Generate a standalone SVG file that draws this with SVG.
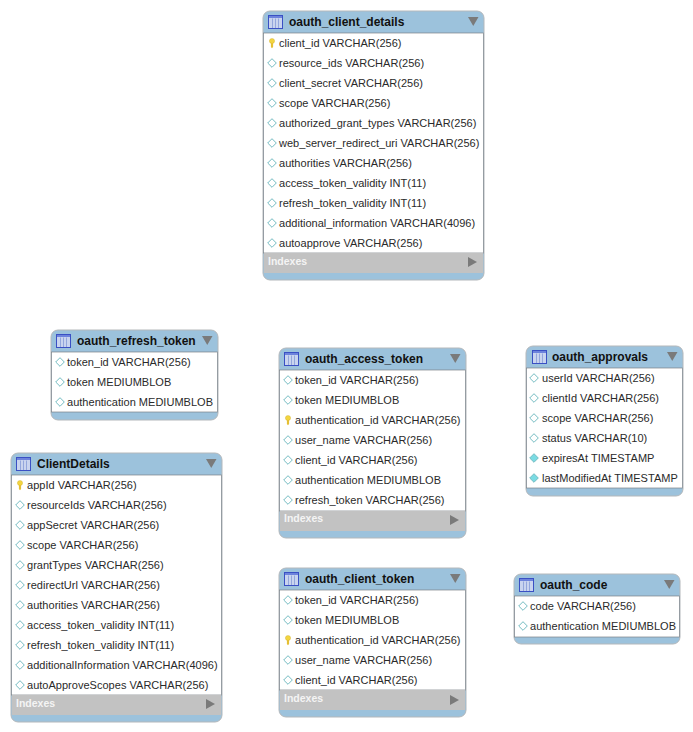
<svg xmlns="http://www.w3.org/2000/svg" width="693" height="732" viewBox="0 0 693 732">
<style>
.box{fill:#9cc2dc;stroke:#b4b8bb;stroke-width:1}
.body{fill:#fff;stroke:#7b8186;stroke-width:.7}
.idx{fill:#c2c2c2}
.t{font:bold 12px "Liberation Sans",Arial,sans-serif;fill:#111}
.r{font:11px "Liberation Sans",Arial,sans-serif;fill:#2a2a2a;letter-spacing:.02px}
.i{font:bold 10.500px "Liberation Sans",Arial,sans-serif;fill:#f4f4f4}
</style>
<defs>
<g id="ticon"><rect x="0.500" y="0.500" width="14" height="13" fill="#c9d4ef" stroke="#3a50c4"/><rect x="1" y="1" width="13" height="2" fill="#6d83dc"/><path d="M4.500 3.500v9.500M7.500 3.500v9.500M10.500 3.500v9.500" stroke="#93a6dc" fill="none"/></g>
<path id="down" d="M0 0h10.500l-5.250 9z" fill="#7a7a7a"/>
<path id="right" d="M0 0l9 5l-9 5z" fill="#7a7a7a"/>
<path id="d" d="M0 -4.300l4.300 4.300l-4.300 4.300l-4.300 -4.300z" fill="#fff" stroke="#74bcc2" stroke-width="1"/>
<path id="dn" d="M0 -4.300l4.300 4.300l-4.300 4.300l-4.300 -4.300z" fill="#7adbe3" stroke="#74bcc2" stroke-width="1"/>
<g id="key"><ellipse cx="0" cy="-2" rx="2.600" ry="2.500" fill="#f3d53f" stroke="#cfae35" stroke-width=".4"/><path d="M-1.100 0h2.200v4l-1.100 1.200l-1.100 -1.200z" fill="#e5bf33"/></g>
</defs>

<g id="connectors"></g>

<g id="oauth_client_details">
<rect class="box" x="263" y="11" width="221" height="269" rx="7"/>
<rect class="body" x="263.500" y="33" width="220" height="220"/>
<rect class="idx" x="264" y="253" width="219" height="20"/>
<use href="#ticon" x="268" y="15"/>
<text class="t" x="289" y="26">oauth_client_details</text>
<use href="#down" x="468" y="17"/>
<use href="#key" x="272" y="43"/><text class="r" x="279" y="47">client_id VARCHAR(256)</text>
<use href="#d" x="272" y="63"/><text class="r" x="279" y="67">resource_ids VARCHAR(256)</text>
<use href="#d" x="272" y="83"/><text class="r" x="279" y="87">client_secret VARCHAR(256)</text>
<use href="#d" x="272" y="103"/><text class="r" x="279" y="107">scope VARCHAR(256)</text>
<use href="#d" x="272" y="123"/><text class="r" x="279" y="127">authorized_grant_types VARCHAR(256)</text>
<use href="#d" x="272" y="143"/><text class="r" x="279" y="147">web_server_redirect_uri VARCHAR(256)</text>
<use href="#d" x="272" y="163"/><text class="r" x="279" y="167">authorities VARCHAR(256)</text>
<use href="#d" x="272" y="183"/><text class="r" x="279" y="187">access_token_validity INT(11)</text>
<use href="#d" x="272" y="203"/><text class="r" x="279" y="207">refresh_token_validity INT(11)</text>
<use href="#d" x="272" y="223"/><text class="r" x="279" y="227">additional_information VARCHAR(4096)</text>
<use href="#d" x="272" y="243"/><text class="r" x="279" y="247">autoapprove VARCHAR(256)</text>
<text class="i" x="268" y="265">Indexes</text>
<use href="#right" x="468" y="257"/>
</g>

<g id="oauth_refresh_token">
<rect class="box" x="51" y="330" width="167" height="90" rx="7"/>
<rect class="body" x="51.500" y="352" width="166" height="60"/>
<use href="#ticon" x="56" y="334"/>
<text class="t" x="77" y="345">oauth_refresh_token</text>
<use href="#down" x="202" y="336"/>
<use href="#d" x="60" y="362"/><text class="r" x="67" y="366">token_id VARCHAR(256)</text>
<use href="#d" x="60" y="382"/><text class="r" x="67" y="386">token MEDIUMBLOB</text>
<use href="#d" x="60" y="402"/><text class="r" x="67" y="406">authentication MEDIUMBLOB</text>
</g>

<g id="oauth_access_token">
<rect class="box" x="279" y="348" width="187" height="190" rx="7"/>
<rect class="body" x="279.500" y="370" width="186" height="141"/>
<rect class="idx" x="280" y="511" width="185" height="20"/>
<use href="#ticon" x="284" y="352"/>
<text class="t" x="305" y="363">oauth_access_token</text>
<use href="#down" x="450" y="354"/>
<use href="#d" x="288" y="380"/><text class="r" x="295" y="384">token_id VARCHAR(256)</text>
<use href="#d" x="288" y="400"/><text class="r" x="295" y="404">token MEDIUMBLOB</text>
<use href="#key" x="288" y="420"/><text class="r" x="295" y="424">authentication_id VARCHAR(256)</text>
<use href="#d" x="288" y="440"/><text class="r" x="295" y="444">user_name VARCHAR(256)</text>
<use href="#d" x="288" y="460"/><text class="r" x="295" y="464">client_id VARCHAR(256)</text>
<use href="#d" x="288" y="480"/><text class="r" x="295" y="484">authentication MEDIUMBLOB</text>
<use href="#d" x="288" y="500"/><text class="r" x="295" y="504">refresh_token VARCHAR(256)</text>
<text class="i" x="284" y="522">Indexes</text>
<use href="#right" x="450" y="515"/>
</g>

<g id="oauth_approvals">
<rect class="box" x="526" y="346" width="157" height="150" rx="7"/>
<rect class="body" x="526.500" y="368" width="156" height="120"/>
<use href="#ticon" x="532" y="350"/>
<text class="t" x="552" y="361">oauth_approvals</text>
<use href="#down" x="667" y="352"/>
<use href="#d" x="534" y="378"/><text class="r" x="542" y="382">userId VARCHAR(256)</text>
<use href="#d" x="534" y="398"/><text class="r" x="542" y="402">clientId VARCHAR(256)</text>
<use href="#d" x="534" y="418"/><text class="r" x="542" y="422">scope VARCHAR(256)</text>
<use href="#d" x="534" y="438"/><text class="r" x="542" y="442">status VARCHAR(10)</text>
<use href="#dn" x="534" y="458"/><text class="r" x="542" y="462">expiresAt TIMESTAMP</text>
<use href="#dn" x="534" y="478"/><text class="r" x="542" y="482">lastModifiedAt TIMESTAMP</text>
</g>

<g id="ClientDetails">
<rect class="box" x="11" y="453" width="211" height="269" rx="7"/>
<rect class="body" x="11.500" y="475" width="210" height="220"/>
<rect class="idx" x="12" y="695" width="209" height="20"/>
<use href="#ticon" x="16" y="457"/>
<text class="t" x="37" y="468">ClientDetails</text>
<use href="#down" x="206" y="459"/>
<use href="#key" x="20" y="485"/><text class="r" x="27" y="489">appId VARCHAR(256)</text>
<use href="#d" x="20" y="505"/><text class="r" x="27" y="509">resourceIds VARCHAR(256)</text>
<use href="#d" x="20" y="525"/><text class="r" x="27" y="529">appSecret VARCHAR(256)</text>
<use href="#d" x="20" y="545"/><text class="r" x="27" y="549">scope VARCHAR(256)</text>
<use href="#d" x="20" y="565"/><text class="r" x="27" y="569">grantTypes VARCHAR(256)</text>
<use href="#d" x="20" y="585"/><text class="r" x="27" y="589">redirectUrl VARCHAR(256)</text>
<use href="#d" x="20" y="605"/><text class="r" x="27" y="609">authorities VARCHAR(256)</text>
<use href="#d" x="20" y="625"/><text class="r" x="27" y="629">access_token_validity INT(11)</text>
<use href="#d" x="20" y="645"/><text class="r" x="27" y="649">refresh_token_validity INT(11)</text>
<use href="#d" x="20" y="665"/><text class="r" x="27" y="669">additionalInformation VARCHAR(4096)</text>
<use href="#d" x="20" y="685"/><text class="r" x="27" y="689">autoApproveScopes VARCHAR(256)</text>
<text class="i" x="16" y="707">Indexes</text>
<use href="#right" x="206" y="699"/>
</g>

<g id="oauth_client_token">
<rect class="box" x="279" y="568" width="187" height="149" rx="7"/>
<rect class="body" x="279.500" y="590" width="186" height="100"/>
<rect class="idx" x="280" y="690" width="185" height="20"/>
<use href="#ticon" x="284" y="572"/>
<text class="t" x="305" y="583">oauth_client_token</text>
<use href="#down" x="450" y="574"/>
<use href="#d" x="288" y="600"/><text class="r" x="295" y="604">token_id VARCHAR(256)</text>
<use href="#d" x="288" y="620"/><text class="r" x="295" y="624">token MEDIUMBLOB</text>
<use href="#key" x="288" y="640"/><text class="r" x="295" y="644">authentication_id VARCHAR(256)</text>
<use href="#d" x="288" y="660"/><text class="r" x="295" y="664">user_name VARCHAR(256)</text>
<use href="#d" x="288" y="680"/><text class="r" x="295" y="684">client_id VARCHAR(256)</text>
<text class="i" x="284" y="702">Indexes</text>
<use href="#right" x="450" y="695"/>
</g>

<g id="oauth_code">
<rect class="box" x="514" y="574" width="166" height="70" rx="7"/>
<rect class="body" x="514.500" y="596" width="165" height="41"/>
<use href="#ticon" x="519" y="578"/>
<text class="t" x="540" y="589">oauth_code</text>
<use href="#down" x="664" y="580"/>
<use href="#d" x="523" y="606"/><text class="r" x="530" y="610">code VARCHAR(256)</text>
<use href="#d" x="523" y="626"/><text class="r" x="530" y="630">authentication MEDIUMBLOB</text>
</g>
</svg>
